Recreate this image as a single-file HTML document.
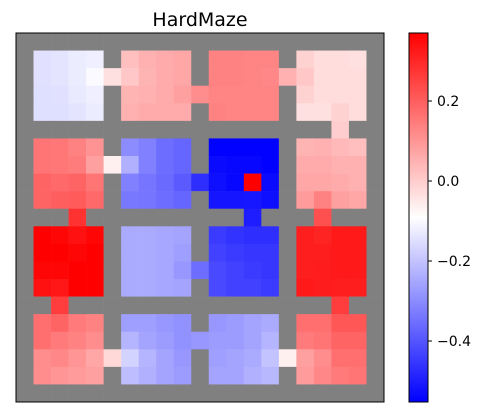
<!DOCTYPE html>
<html><head><meta charset="utf-8"><style>
body{margin:0;background:#fff;}
svg{display:block;font-family:"DejaVu Sans","Liberation Sans",sans-serif;}
</style></head><body>
<svg id="chart" width="487" height="417">
<text x="200" y="26" text-anchor="middle" font-size="19" fill="#000">HardMaze</text>
<g id="cells"></g>
<rect x="16" y="33" width="368" height="369" fill="none" stroke="#000" stroke-width="1"/>
<defs><linearGradient id="bwr" x1="0" y1="0" x2="0" y2="1">
<stop offset="0" stop-color="#ff0000"/><stop offset="0.5" stop-color="#ffffff"/><stop offset="1" stop-color="#0000ff"/></linearGradient></defs>
<rect x="409" y="33" width="19" height="369" fill="url(#bwr)" stroke="#000" stroke-width="1"/>
<g id="cbticks"></g>
</svg>
<script>
const vmin = -0.5525, vmax = 0.37;
const cbTicks = [0.2, 0.0, -0.2, -0.4];
const cbLabels = ["0.2", "0.0", "\u22120.2", "\u22120.4"];
const n = null;
const row0  = [n,n,n,n,n,n,n,n,n,n,n,n,n,n,n,n,n,n,n,n,n];
const row1  = [n,-.145,-.14,-.125,-.12,n,.025,.05,.06,.07,n,.135,.135,.13,.13,n,-.01,-.03,-.03,-.035,n];
const row2  = [n,-.145,-.14,-.125,-.1,-.035,.01,.045,.06,.07,n,.135,.135,.13,.125,.05,.01,-.03,-.03,-.03,n];
const row3  = [n,-.15,-.145,-.13,-.12,n,.045,.05,.06,.08,.115,.13,.13,.13,.13,n,-.01,-.03,-.03,-.03,n];
const row4  = [n,-.15,-.15,-.14,-.125,n,.05,.06,.06,.06,n,.135,.13,.13,.13,n,-.035,-.035,-.01,-.03,n];
const row5  = [n,n,n,n,n,n,n,n,n,n,n,n,n,n,n,n,n,n,0,n,n];
const row6  = [n,.16,.155,.135,.105,n,-.3,-.32,-.355,-.37,n,-.55,-.55,-.55,-.55,n,.045,.05,.035,.025,n];
const row7  = [n,.16,.155,.145,.08,-.065,-.235,-.32,-.355,-.37,n,-.535,-.54,-.54,-.55,n,.06,.06,.05,.05,n];
const row8  = [n,.19,.18,.19,.16,n,-.32,-.34,-.36,-.39,-.47,-.525,-.54,.37,-.535,n,.07,.07,.06,.05,n];
const row9  = [n,.19,.2,.205,.18,n,-.335,-.34,-.355,-.37,n,-.515,-.515,-.51,-.525,n,.09,.135,.08,.07,n];
const row10 = [n,n,n,.28,n,n,n,n,n,n,n,n,n,-.5,n,n,n,.225,n,n,n];
const row11 = [n,.37,.36,.34,.36,n,-.245,-.245,-.25,-.255,n,-.445,-.46,-.47,-.47,n,.315,.305,.325,.325,n];
const row12 = [n,.37,.37,.36,.37,n,-.245,-.245,-.25,-.265,n,-.435,-.445,-.455,-.455,n,.315,.315,.325,.325,n];
const row13 = [n,.36,.36,.37,.37,n,-.245,-.245,-.25,-.28,-.355,-.42,-.435,-.445,-.455,n,.315,.32,.325,.325,n];
const row14 = [n,.34,.33,.37,.37,n,-.245,-.245,-.25,-.255,n,-.42,-.435,-.435,-.445,n,.325,.32,.315,.315,n];
const row15 = [n,n,.26,n,n,n,n,n,n,n,n,n,n,n,n,n,n,n,.26,n,n];
const row16 = [n,.17,.19,.15,.135,n,-.265,-.265,-.28,-.29,n,-.28,-.27,-.255,-.245,n,.17,.17,.215,.215,n];
const row17 = [n,.17,.15,.135,.115,n,-.225,-.255,-.27,-.29,-.28,-.27,-.27,-.255,-.225,n,.15,.16,.19,.19,n];
const row18 = [n,.115,.125,.1,.07,-.02,-.17,-.225,-.255,-.28,n,-.265,-.255,-.245,-.2,-.065,.08,.115,.17,.17,n];
const row19 = [n,.115,.1,.09,.08,n,-.21,-.235,-.255,-.27,n,-.255,-.255,-.235,-.22,n,.09,.125,.15,.16,n];
const row20 = [n,n,n,n,n,n,n,n,n,n,n,n,n,n,n,n,n,n,n,n,n];
const grid = [row0,row1,row2,row3,row4,row5,row6,row7,row8,row9,row10,row11,row12,row13,row14,row15,row16,row17,row18,row19,row20];

const AX = 16, AY = 33, AW = 368, AH = 369;
const CB = {x: 409, y: 33, w: 19, h: 369};
const NS = "http://www.w3.org/2000/svg";
function colX(c){ return AX + c * AW / grid[0].length; }
function rowY(r){ return AY + r * AH / grid.length; }
function cbY(v){ return CB.y + (vmax - v) / (vmax - vmin) * CB.h; }
function bwr(v){
  let t = (v - vmin) / (vmax - vmin); t = Math.max(0, Math.min(1, t));
  let r, g, b;
  if (t < 0.5){ r = g = Math.round(510 * t); b = 255; }
  else { r = 255; g = b = Math.round(510 * (1 - t)); }
  return `rgb(${r},${g},${b})`;
}
const cells = document.getElementById('cells');
for (let r = 0; r < grid.length; r++){
  for (let c = 0; c < grid[r].length; c++){
    const v = grid[r][c];
    const rect = document.createElementNS(NS, 'rect');
    const x0 = colX(c), y0 = rowY(r);
    rect.setAttribute('x', x0);
    rect.setAttribute('y', y0);
    rect.setAttribute('width', colX(c + 1) - x0 + 0.3);
    rect.setAttribute('height', rowY(r + 1) - y0 + 0.3);
    rect.setAttribute('fill', v === null ? '#808080' : bwr(v));
    
    
    cells.appendChild(rect);
  }
}
const tg = document.getElementById('cbticks');
cbTicks.forEach((v, i) => {
  const y = cbY(v);
  const l = document.createElementNS(NS, 'line');
  l.setAttribute('x1', CB.x + CB.w); l.setAttribute('x2', CB.x + CB.w + 4);
  l.setAttribute('y1', y); l.setAttribute('y2', y);
  l.setAttribute('stroke', '#000');
  
  
  tg.appendChild(l);
  const t = document.createElementNS(NS, 'text');
  t.setAttribute('x', CB.x + CB.w + 9);
  t.setAttribute('y', y + 5);
  t.setAttribute('font-size', '14');
  t.textContent = cbLabels[i];
  
  
  tg.appendChild(t);
});
</script>
</body></html>
